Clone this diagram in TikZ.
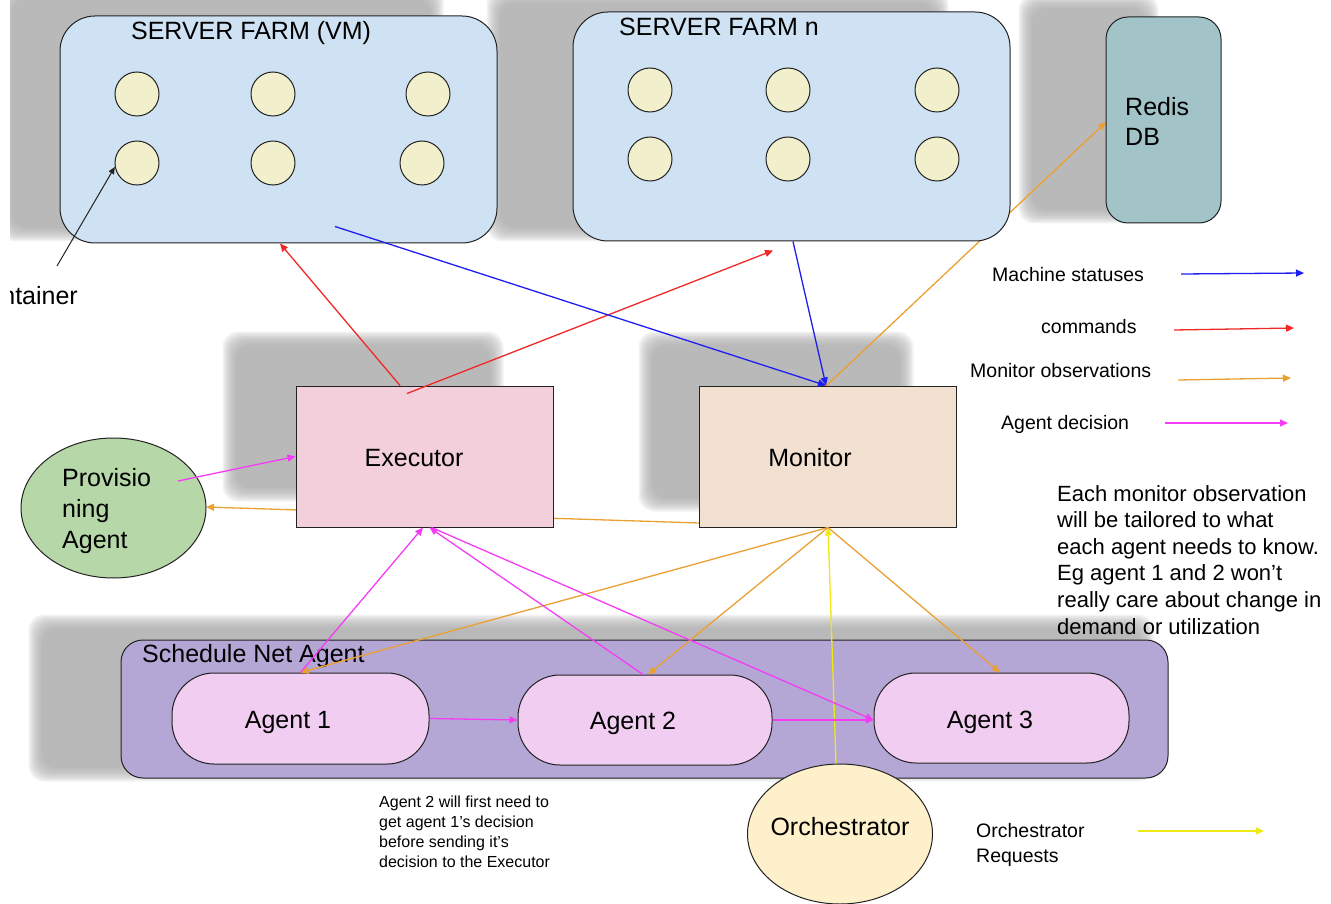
\documentclass[tikz,border=0pt]{standalone}
\usepackage{fontspec}
\setmainfont{Liberation Sans}
\usetikzlibrary{arrows.meta,shapes.geometric}
\definecolor{farmc}{HTML}{CFE2F3}
\definecolor{creamc}{HTML}{F2F0CC}
\definecolor{redisc}{HTML}{A2C4C9}
\definecolor{execc}{HTML}{F2CFDB}
\definecolor{monc}{HTML}{F2E0D0}
\definecolor{provc}{HTML}{B6D7A8}
\definecolor{schedc}{HTML}{B4A7D6}
\definecolor{agentc}{HTML}{F1CEF1}
\definecolor{orchc}{HTML}{FDF0CB}
\definecolor{shadowc}{HTML}{A8A8A8}
\definecolor{obsc}{RGB}{235,160,50}
\definecolor{decc}{RGB}{245,60,245}
\definecolor{statc}{RGB}{30,30,240}
\definecolor{cmdc}{RGB}{240,40,40}
\definecolor{reqc}{RGB}{238,232,20}
\definecolor{edgec}{HTML}{222222}
\newcommand{\bigf}{\fontsize{25}{30}\selectfont}
\newcommand{\shd}[4]{\foreach \e in {13.5,12,10.5,9,7.5,6,4.5,3,1.5,0}{\fill[shdstyle] (#1-\e,#2-\e) rectangle (#3+\e,#4+\e);}}
\begin{document}
\begin{tikzpicture}[x=1pt,y=-1pt,
  shdstyle/.style={fill=shadowc, fill opacity=.15, rounded corners=16pt},
  farm/.style={draw=edgec, line width=1pt, fill=farmc, rounded corners=35pt},
  vmcirc/.style={circle, draw=edgec, line width=1pt, fill=creamc, minimum size=44pt, inner sep=0},
  boxs/.style={draw=edgec, line width=1pt},
  agentbox/.style={draw=edgec, line width=1pt, fill=agentc, rounded corners=42pt, minimum width=255pt, minimum height=90pt},
  lbl/.style={inner sep=0, font=\bigf},
  leg/.style={inner sep=0, font=\fontsize{19.5}{25}\selectfont},
  conn/.style={line width=1.3pt, -{Triangle[length=8pt,width=7pt]}},
  stat/.style={conn, draw=statc},
  cmd/.style={conn, draw=cmdc},
  obs/.style={conn, draw=obsc},
  dec/.style={conn, draw=decc},
  req/.style={conn, draw=reqc}
]
\useasboundingbox (0,0) rectangle (1331,904);
\clip (10,0) rectangle (1331,904);
% shadows
\shd{12}{-2}{430}{228}
\shd{500}{3}{935}{228}
\shd{1032}{8}{1145}{210}
\shd{236}{345}{490}{488}
\shd{652}{345}{900}{498}
\shd{42}{628}{1140}{768}

% lines that run behind boxes
\coordinate (provE) at (206,507);
\coordinate (monL) at (699,523);
\coordinate (monTop) at (826,386);
\coordinate (redisL) at (1106,122);
\draw[obs] (monL) -- (provE);
\draw[obs] (monTop) -- (redisL);

% server farms
\node[farm, minimum width=437pt, minimum height=227pt] (vm) at (278.5,129.5) {};
\node[farm, minimum width=437pt, minimum height=229pt] (fn) at (791.5,126.5) {};
\node[draw=edgec, line width=1pt, fill=redisc, rounded corners=22pt, minimum width=115pt, minimum height=206pt] (redis) at (1163.5,120) {};
\node[lbl, anchor=base] (vmlbl) at (251,40) {SERVER FARM (VM)};
\node[lbl, anchor=base west] (fnlbl) at (619,36) {SERVER FARM n};
\node[lbl, anchor=north west, align=left] (redislbl) at (1125,96.7) {Redis\\DB};

\node[vmcirc] (c11) at (137,94) {};
\node[vmcirc] (c12) at (273,94) {};
\node[vmcirc] (c13) at (428,94) {};
\node[vmcirc] (c21) at (137,163) {};
\node[vmcirc] (c22) at (273,163) {};
\node[vmcirc] (c23) at (422,163) {};
\node[vmcirc] (n11) at (650,90) {};
\node[vmcirc] (n12) at (788,90) {};
\node[vmcirc] (n13) at (937,90) {};
\node[vmcirc] (n21) at (650,159) {};
\node[vmcirc] (n22) at (788,159) {};
\node[vmcirc] (n23) at (937,159) {};

% executor, monitor, provisioning
\node[boxs, fill=execc, minimum width=257pt, minimum height=141pt] (exec) at (424.5,456.5) {};
\node[boxs, fill=monc, minimum width=257pt, minimum height=141pt] (mon) at (827.5,456.5) {};
\node[lbl, anchor=base] (exectxt) at (414,466) {Executor};
\node[lbl, anchor=base] (montxt) at (810,466) {Monitor};
\node[ellipse, draw=edgec, line width=1pt, fill=provc, minimum width=185pt, minimum height=140pt] (prov) at (113.5,508) {};
\node[lbl, anchor=north west, align=left, font=\fontsize{25}{31}\selectfont] (provtxt) at (62,467.7) {Provisio\\ning\\Agent};

% schedule net agent
\node[draw=edgec, line width=1pt, fill=schedc, rounded corners=22pt, minimum width=1047pt, minimum height=138pt] (sched) at (644.5,709) {};
\node[lbl, anchor=base west] (schedtxt) at (142,662) {Schedule Net Agent};
\node[agentbox, minimum width=257pt, minimum height=91pt] (a1) at (300.5,718.5) {};
\node[agentbox, minimum width=254pt] (a2) at (645,720) {};
\node[agentbox] (a3) at (1001.5,718) {};
\node[lbl, anchor=base] (a1t) at (288,728) {Agent 1};
\node[lbl, anchor=base] (a2t) at (633,729) {Agent 2};
\node[lbl, anchor=base] (a3t) at (990,728) {Agent 3};

% orchestrator and its request line
\node[ellipse, draw=edgec, line width=1pt, fill=orchc, minimum width=185pt, minimum height=140pt] (orch) at (840,834) {};
\node[lbl, anchor=base] (orcht) at (840,835) {Orchestrator};
\draw[req] ([xshift=-4pt]orch.north) -- ([xshift=0.5pt]mon.south);

% commands
\draw[cmd] ([xshift=-24.5pt]exec.north) -- ([xshift=1.5pt]vm.south);
\draw[cmd] ([xshift=-17.5pt,yshift=-8pt]exec.north) -- ([xshift=-18.5pt,yshift=-9pt]fn.south);
% machine statuses
\draw[stat] ([xshift=56.5pt,yshift=17pt]vm.south) -- ([xshift=-1.5pt]mon.north);
\draw[stat] ([xshift=1.5pt]fn.south) -- ([xshift=-1.5pt]mon.north);
% monitor observations to agents
\draw[obs] ([xshift=0.5pt]mon.south) -- (a1.north);
\draw[obs] ([xshift=0.5pt]mon.south) -- ([xshift=3pt]a2.north);
\draw[obs] ([xshift=0.5pt]mon.south) -- ([xshift=-1.5pt]a3.north);
% agent decisions
\draw[dec] ([xshift=64.5pt,yshift=27pt]prov.center) -- (exec.west);
\draw[dec] (a1.north) -- ([xshift=-1.5pt]exec.south);
\draw[dec] ([xshift=-2pt]a2.north) -- ([xshift=5pt]exec.south);
\draw[dec] ([xshift=7pt]exec.south) -- ([yshift=-2pt]a3.west);
\draw[dec] (a1.east) -- (a2.west);
\draw[dec] (a2.east) -- ([yshift=-2pt]a3.west);

% container annotation (cut by the left edge, as in the reference)
\node[lbl, anchor=base east] (cont) at (78,304) {Container};
\coordinate (contTail) at (57,266);
\draw[line width=1pt, -{Triangle[length=7pt,width=6pt]}, draw=edgec] (contTail) -- (c21.190);

% legend
\node[leg, anchor=base west] (lg1) at (992,282) {Machine statuses};
\node[leg, anchor=base west] (lg2) at (1041,333) {commands};
\node[leg, anchor=base west] (lg3) at (970,377) {Monitor observations};
\node[leg, anchor=base west] (lg4) at (1001,429) {Agent decision};
\node[leg, anchor=north west, align=left] (lg5) at (976,823.5) {Orchestrator\\Requests};
\coordinate (l1a) at (1181,274); \coordinate (l1b) at (1304,273);
\coordinate (l2a) at (1174,330); \coordinate (l2b) at (1294,328);
\coordinate (l3a) at (1178,380); \coordinate (l3b) at (1291,378);
\coordinate (l4a) at (1165,423); \coordinate (l4b) at (1288,423);
\coordinate (l5a) at (1138,831); \coordinate (l5b) at (1264,831);
\draw[stat] (l1a) -- (l1b);
\draw[cmd] (l2a) -- (l2b);
\draw[obs] (l3a) -- (l3b);
\draw[dec] (l4a) -- (l4b);
\draw[req] (l5a) -- (l5b);

% notes
\node[inner sep=0, anchor=north west, align=left, font=\fontsize{22}{26.6}\selectfont] (note1) at (1057,485) {Each monitor observation\\will be tailored to what\\each agent needs to know.\\Eg agent 1 and 2 won't\\really care about change in\\demand or utilization};
\node[inner sep=0, anchor=north west, align=left, font=\fontsize{16}{20}\selectfont] (note2) at (379,796) {Agent 2 will first need to\\get agent 1's decision\\before sending it's\\decision to the Executor};
\end{tikzpicture}
\end{document}
